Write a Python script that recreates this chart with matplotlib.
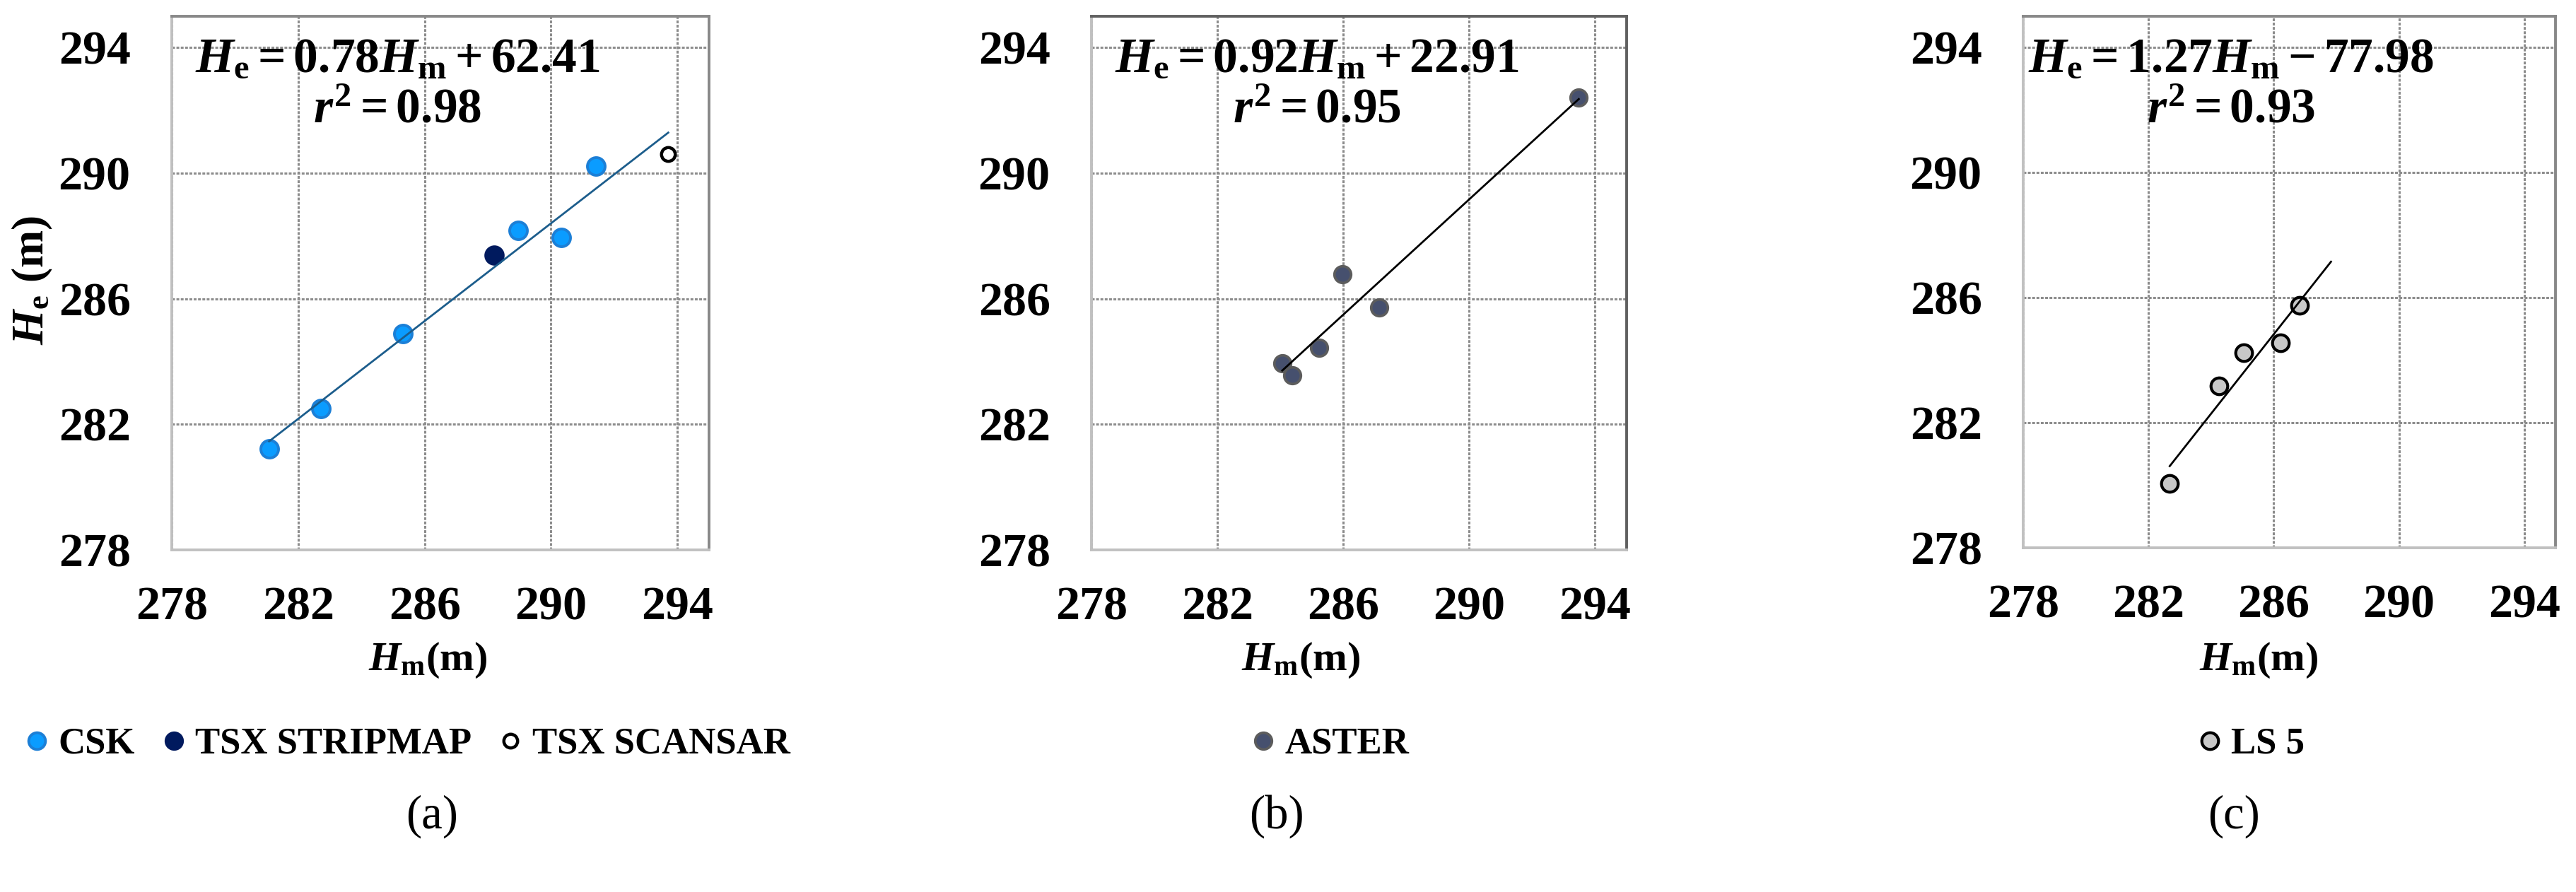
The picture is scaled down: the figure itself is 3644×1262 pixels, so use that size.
import matplotlib
matplotlib.use('Agg')
import matplotlib.pyplot as plt
from matplotlib.lines import Line2D
import numpy as np

csk_hm = [281.08, 282.71, 285.31, 288.95, 290.32, 291.41]
csk_he = [281.23, 282.50, 284.89, 288.18, 287.96, 290.22]
strip_hm = [288.19]
strip_he = [287.38]
scan_hm = [293.71]
scan_he = [290.61]

aster_hm = [284.06, 284.37, 285.23, 285.98, 287.14, 293.48]
aster_he = [283.95, 283.56, 284.44, 286.78, 285.73, 292.42]

ls5_hm = [282.68, 284.25, 285.04, 286.21, 286.83]
ls5_he = [280.06, 283.18, 284.25, 284.55, 285.76]
ls5_forward = 1.0   # trendline forecast past the last point

ticks = [278, 282, 286, 290, 294]
eq_a = (r'$H_{\mathrm{e}} = \mathit{0.78}H_{\mathrm{m}} + \mathit{62.41}$', r'$\mathit{r}^{\mathit{2}} = \mathit{0.98}$')
eq_b = (r'$H_{\mathrm{e}} = \mathit{0.92}H_{\mathrm{m}} + \mathit{22.91}$', r'$\mathit{r}^{\mathit{2}} = \mathit{0.95}$')
eq_c = (r'$H_{\mathrm{e}} = \mathit{1.27}H_{\mathrm{m}} - \mathit{77.98}$', r'$\mathit{r}^{\mathit{2}} = \mathit{0.93}$')

plt.rcParams['font.family'] = ['Liberation Serif', 'DejaVu Serif']
plt.rcParams['mathtext.fontset'] = 'custom'
plt.rcParams['mathtext.rm'] = 'Liberation Serif:bold'
plt.rcParams['mathtext.it'] = 'Liberation Serif:bold:italic'
plt.rcParams['mathtext.bf'] = 'Liberation Serif:bold'

W, H = 3644, 1262
fig = plt.figure(figsize=(W / 100, H / 100), dpi=100)


def rect(l, t, r, b):
    return [l / W, 1 - b / H, (r - l) / W, (b - t) / H]


def style(ax, right_col):
    ax.set_xlim(278, 295)
    ax.set_ylim(278, 295)
    ax.set_xticks(ticks)
    ax.set_yticks(ticks)
    ax.tick_params(length=0, labelsize=49, pad=37)
    ax.tick_params(axis='y', pad=42)
    for lab in ax.get_xticklabels() + ax.get_yticklabels():
        lab.set_fontweight('bold')
    ax.grid(True, color='#8c8c8c', lw=2.2, ls=(0, (1.3, 0.7)))
    ax.set_axisbelow(True)
    ax.spines['left'].set_color('#c0c0c0')
    ax.spines['bottom'].set_color('#c0c0c0')
    ax.spines['top'].set_color(right_col)
    ax.spines['right'].set_color(right_col)
    for s in ax.spines.values():
        s.set_linewidth(2.8)


def fit_line(ax, x, y, color, extra=0.0):
    k, b = np.polyfit(x, y, 1)
    xs = np.array([min(x), max(x) + extra])
    ax.plot(xs, k * xs + b, color=color, lw=2.0, zorder=5)


def equation(ax, eq, xc):
    ax.text(xc, 0.896, eq[0], transform=ax.transAxes, ha='center', va='baseline', fontsize=50, zorder=6)
    ax.text(xc, 0.800, eq[1], transform=ax.transAxes, ha='center', va='baseline', fontsize=50, zorder=6)


# (a)
ax1 = fig.add_axes(rect(243, 23, 1003, 778))
style(ax1, '#888888')
ax1.scatter(csk_hm, csk_he, s=18 ** 2, c='#0a9cff', edgecolors='#1c7fd6', linewidths=2.8, zorder=4)
ax1.scatter(strip_hm, strip_he, s=18 ** 2, c='#001a5e', edgecolors='#001a5e', linewidths=2.6, zorder=4)
ax1.scatter(scan_hm, scan_he, s=14 ** 2, c='white', edgecolors='black', linewidths=3.2, zorder=4)
fit_line(ax1, csk_hm + strip_hm + scan_hm, csk_he + strip_he + scan_he, '#1c5d8c')
equation(ax1, eq_a, 0.42)
ax1.text(-0.259, 0.505, r'$H_{\mathrm{e}}\ \mathrm{(m)}$', transform=ax1.transAxes, rotation=90,
         ha='center', va='center', fontsize=46)

# (b)
ax2 = fig.add_axes(rect(1544, 23, 2301, 778))
style(ax2, '#606060')
ax2.scatter(aster_hm, aster_he, s=17 ** 2, c='#46506e', edgecolors='#5c5c5c', linewidths=2.6, zorder=4)
fit_line(ax2, aster_hm, aster_he, 'black')
equation(ax2, eq_b, 0.421)

# (c)
ax3 = fig.add_axes(rect(2862, 23, 3615, 775))
style(ax3, '#888888')
ax3.scatter(ls5_hm, ls5_he, s=17 ** 2, c='#c8c8c8', edgecolors='black', linewidths=3.0, zorder=4)
fit_line(ax3, ls5_hm, ls5_he, 'black', ls5_forward)
equation(ax3, eq_c, 0.39)

# x labels and panel letters
for cx in [605, 1840, 3195]:
    fig.text(cx / W, 1 - 934 / H, r'$H_{\mathrm{m}}\mathrm{(m)}$', ha='center', va='center', fontsize=42)
for cx, letter in [(611, '(a)'), (1806, '(b)'), (3160, '(c)')]:
    fig.text(cx / W, 1 - 1155 / H, letter, ha='center', va='center', fontsize=48)

# legends
legend_font = {'weight': 'bold', 'size': 38}
h_a = [Line2D([], [], ls='none', marker='o', ms=17, mfc='#0a9cff', mec='#1c7fd6', mew=2.8, label='CSK'),
       Line2D([], [], ls='none', marker='o', ms=17, mfc='#001a5e', mec='#001a5e', mew=2.6, label='TSX STRIPMAP'),
       Line2D([], [], ls='none', marker='o', ms=14, mfc='white', mec='black', mew=3.2, label='TSX SCANSAR')]
h_b = [Line2D([], [], ls='none', marker='o', ms=17, mfc='#46506e', mec='#5c5c5c', mew=2.6, label='ASTER')]
h_c = [Line2D([], [], ls='none', marker='o', ms=17, mfc='#c8c8c8', mec='black', mew=3.0, label='LS 5')]
for ax, hs, cx in [(ax1, h_a, 577), (ax2, h_b, 1882), (ax3, h_c, 3185)]:
    ax.legend(handles=hs, loc='center', bbox_to_anchor=(cx / W, 1 - 1053 / H), bbox_transform=fig.transFigure,
              ncol=len(hs), frameon=False, prop=legend_font, handlelength=0.6, handletextpad=0.28,
              columnspacing=0.74, borderpad=0, borderaxespad=0)

fig.savefig('out.png', dpi=100)
